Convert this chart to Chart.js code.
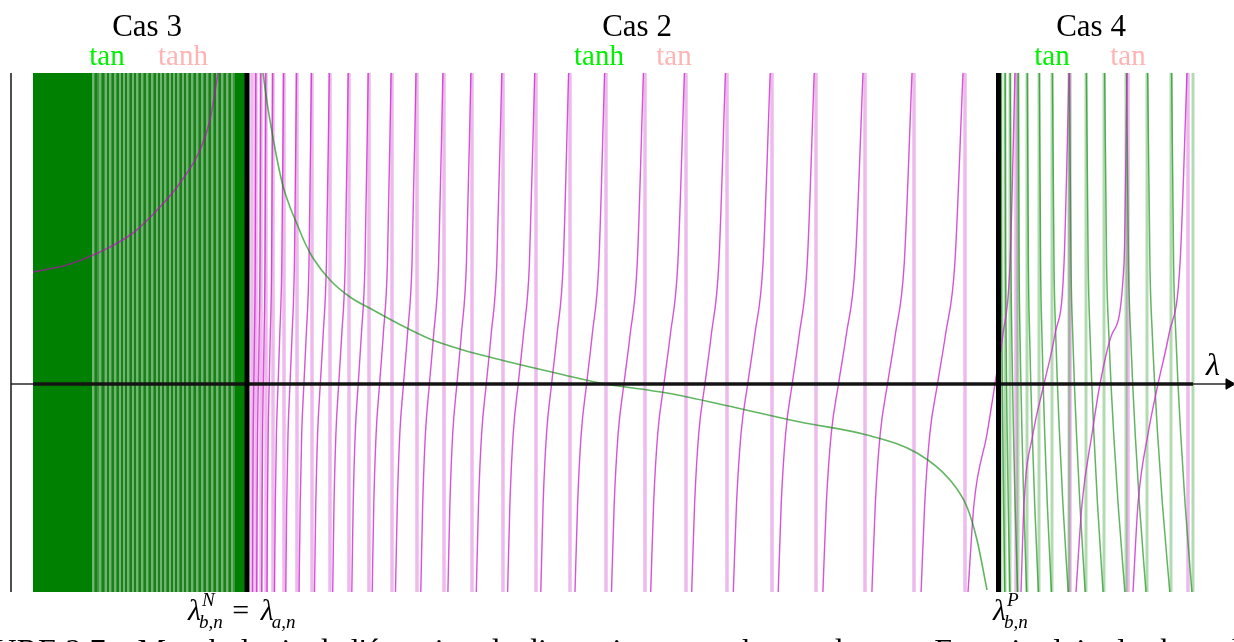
<!DOCTYPE html>
<html>
<head>
<meta charset="utf-8">
<script src="https://cdn.jsdelivr.net/npm/chart.js@4/dist/chart.umd.min.js"></script>
<style>
  html, body { margin: 0; padding: 0; background: #fff; overflow: hidden; }
  #wrap { position: relative; width: 1234px; height: 642px; }
</style>
</head>
<body>
<div id="wrap"><canvas id="dispersion"></canvas></div>
<script>
// plot window (lambda on x, dispersion function on y)
const yBottom = -2.08, yTop = 3.11;
const lambdaN = 2.47, lambdaP = 9.985;

// Cas 3 : dense tan branches (green), read as line positions
const cas3Gaps = [0.93, 1.00, 1.06, 1.10, 1.15, 1.20, 1.24, 1.28, 1.33, 1.37, 1.42, 1.47, 1.52, 1.57, 1.61,
  1.65, 1.70, 1.74, 1.78, 1.83, 1.87, 1.92, 1.97, 2.02, 2.07, 2.12, 2.17, 2.22, 2.27, 2.32];
const cas3Dark = [0.96, 1.03, 1.08, 1.13, 1.18, 1.22, 1.26, 1.31, 1.35, 1.40, 1.45, 1.50, 1.55, 1.59, 1.63,
  1.68, 1.72, 1.76, 1.81, 1.85, 1.90, 1.95, 2.00, 2.05, 2.10, 2.15, 2.20, 2.25, 2.30];
// Cas 3 : tanh curve
const cas3X = [0.33, 0.67, 1.00, 1.33, 1.60, 1.80, 2.00, 2.10, 2.18];
const cas3Y = [1.12, 1.19, 1.32, 1.51, 1.77, 2.01, 2.34, 2.64, 3.11];

// Cas 2 : tanh curve (green)
const tanhX = [2.63, 2.67, 2.72, 2.78, 2.83, 2.90, 2.97, 3.05, 3.13, 3.30, 3.50, 3.73, 3.97, 4.30, 4.63, 4.93,
  5.30, 5.60, 6.00, 6.67, 7.33, 8.00, 8.67, 9.17, 9.50, 9.67, 9.77, 9.87];
const tanhY = [3.11, 2.82, 2.52, 2.20, 1.98, 1.77, 1.60, 1.41, 1.26, 1.04, 0.87, 0.74, 0.61, 0.45, 0.34, 0.26,
  0.17, 0.10, 0.01, -0.09, -0.23, -0.38, -0.51, -0.69, -0.96, -1.23, -1.56, -2.06];

// tan branches (magenta) : x at each of these levels
const magLevels = [-2.08, -1.2, -0.5, 0, 0.5, 1.2, 3.11];
const magBranches = [
  [2.526, 2.528, 2.532, 2.538, 2.545, 2.552, 2.558],
  [2.567, 2.571, 2.576, 2.583, 2.591, 2.600, 2.608],
  [2.617, 2.621, 2.626, 2.633, 2.641, 2.650, 2.658],
  [2.670, 2.675, 2.682, 2.692, 2.703, 2.716, 2.727],
  [2.745, 2.753, 2.764, 2.781, 2.798, 2.818, 2.836],
  [2.858, 2.867, 2.880, 2.900, 2.921, 2.944, 2.965],
  [2.991, 3.002, 3.017, 3.039, 3.063, 3.090, 3.114],
  [3.145, 3.158, 3.176, 3.203, 3.232, 3.264, 3.293],
  [3.327, 3.340, 3.359, 3.387, 3.418, 3.452, 3.482],
  [3.518, 3.532, 3.552, 3.582, 3.614, 3.650, 3.682],
  [3.722, 3.738, 3.761, 3.796, 3.833, 3.874, 3.911],
  [3.955, 3.973, 3.998, 4.035, 4.075, 4.120, 4.160],
  [4.208, 4.227, 4.254, 4.294, 4.337, 4.386, 4.429],
  [4.479, 4.499, 4.527, 4.569, 4.614, 4.664, 4.709],
  [4.763, 4.785, 4.816, 4.863, 4.912, 4.968, 5.018],
  [5.076, 5.099, 5.132, 5.182, 5.235, 5.294, 5.347],
  [5.408, 5.431, 5.465, 5.516, 5.571, 5.632, 5.686],
  [5.750, 5.776, 5.812, 5.866, 5.923, 5.988, 6.046],
  [6.115, 6.142, 6.181, 6.239, 6.302, 6.372, 6.434],
  [6.507, 6.536, 6.577, 6.639, 6.704, 6.778, 6.844],
  [6.917, 6.946, 6.987, 7.049, 7.114, 7.188, 7.254],
  [7.333, 7.365, 7.410, 7.477, 7.549, 7.630, 7.702],
  [7.782, 7.812, 7.856, 7.922, 7.993, 8.072, 8.142],
  [8.229, 8.263, 8.312, 8.385, 8.464, 8.552, 8.630],
  [8.719, 8.753, 8.802, 8.875, 8.954, 9.042, 9.120],
  [9.211, 9.247, 9.298, 9.375, 9.456, 9.548, 9.630],
  [9.68, 9.74, 9.87, 9.95, 10.03, 10.10, 10.15],
  [10.21, 10.24, 10.33, 10.44, 10.55, 10.64, 10.69],
  [10.76, 10.82, 10.92, 11.00, 11.12, 11.24, 11.27],
  [11.33, 11.38, 11.48, 11.58, 11.69, 11.80, 11.87]
];
const magAsymptotes = [2.52, 2.56, 2.61, 2.66, 2.73, 2.84, 2.97, 3.12, 3.30, 3.49, 3.69, 3.92, 4.17, 4.44,
  4.72, 5.03, 5.36, 5.70, 6.06, 6.45, 6.86, 7.27, 7.72, 8.16, 8.65, 9.14, 9.65, 10.16, 10.70, 11.28, 11.88];

// Cas 4 : tan branches (green), decreasing
const greenLevels = [3.11, 1.2, 0.5, 0, -0.5, -1.2, -2.08];
const greenBranches = [
  [10.011, 10.015, 10.019, 10.023, 10.028, 10.036, 10.048],
  [10.052, 10.056, 10.061, 10.066, 10.072, 10.082, 10.098],
  [10.102, 10.110, 10.118, 10.126, 10.135, 10.151, 10.176],
  [10.183, 10.191, 10.200, 10.209, 10.220, 10.238, 10.266],
  [10.274, 10.284, 10.296, 10.308, 10.323, 10.347, 10.384],
  [10.394, 10.406, 10.419, 10.432, 10.447, 10.473, 10.514],
  [10.525, 10.540, 10.557, 10.574, 10.595, 10.629, 10.682],
  [10.695, 10.710, 10.727, 10.744, 10.765, 10.799, 10.852],
  [10.865, 10.882, 10.900, 10.918, 10.939, 10.975, 11.031],
  [11.047, 11.066, 11.088, 11.110, 11.137, 11.181, 11.249],
  [11.266, 11.285, 11.306, 11.327, 11.352, 11.394, 11.460],
  [11.477, 11.499, 11.523, 11.547, 11.576, 11.624, 11.698],
  [11.717, 11.736, 11.758, 11.780, 11.807, 11.851, 11.919]
];
const greenAsymptotes = [10.01, 10.05, 10.10, 10.18, 10.27, 10.39, 10.52, 10.69, 10.86, 11.04, 11.26, 11.47, 11.71, 11.93];

// header labels
const caseNames = ['Cas 3', 'Cas 2', 'Cas 4'];
const caseX = [1.47, 6.37, 10.91];
const leftFuncs = ['tan', 'tanh', 'tan'];
const leftFuncX = [1.07, 5.99, 10.52];
const rightFuncs = ['tanh', 'tan', 'tan'];
const rightFuncX = [1.83, 6.74, 11.28];

const MAGENTA = 'rgba(205, 40, 205, 0.8)';
const PINK = 'rgba(215, 90, 215, 0.42)';
const GREEN = 'rgba(0, 135, 0, 0.62)';
const GREEN_BAND = 'rgba(0, 135, 0, 0.3)';
const SERIF = '"Liberation Serif", "DejaVu Serif", serif';

const layers = []; // bottom layer first

function addLine(points, color, width, smooth) {
  layers.push({
    data: points,
    showLine: true,
    borderColor: color,
    borderWidth: width,
    pointRadius: 0,
    fill: false,
    cubicInterpolationMode: smooth ? 'monotone' : 'default'
  });
}
function addVline(x, color, width) {
  addLine([{ x: x, y: yBottom }, { x: x, y: yTop }], color, width, false);
}
function addBand(x0, x1, color) {
  layers.push({
    data: [{ x: x0, y: yTop }, { x: x1, y: yTop }],
    showLine: true,
    borderWidth: 0,
    borderColor: color,
    pointRadius: 0,
    fill: { value: yBottom },
    backgroundColor: color
  });
}
function pairs(xs, ys) {
  return xs.map((x, i) => ({ x: x, y: ys[i] }));
}

// Cas 3 block
addBand(0.33, 0.92, 'rgb(0, 128, 0)');
addBand(0.92, 2.35, 'rgb(60, 152, 60)');
addBand(2.35, lambdaN, 'rgb(0, 128, 0)');
cas3Dark.forEach(x => addVline(x, 'rgba(0, 110, 0, 0.75)', 1.5));
cas3Gaps.forEach(x => addVline(x, 'rgba(255, 255, 255, 0.5)', 1.1));

// asymptotes
magAsymptotes.forEach(x => addVline(x, PINK, 3.5));
greenAsymptotes.forEach(x => addVline(x, GREEN_BAND, 3));

// branches
greenBranches.forEach(b => addLine(pairs(b, greenLevels), GREEN, 1.5, true));
magBranches.forEach(b => addLine(pairs(b, magLevels), MAGENTA, 1.4, true));

// smooth curves
addLine(pairs(tanhX, tanhY), GREEN, 1.6, true);
addLine(pairs(cas3X, cas3Y), 'rgba(200, 0, 200, 0.6)', 1.6, true);

// axes
addLine([{ x: 0.11, y: 0 }, { x: 12.27, y: 0 }], 'rgb(40, 40, 40)', 1.3, false);
addLine([{ x: 0.33, y: 0 }, { x: 11.93, y: 0 }], 'rgb(20, 20, 20)', 3.5, false);
addVline(0.11, 'rgb(20, 20, 20)', 1.5);
addVline(lambdaN, '#000', 5);
addVline(lambdaP, '#000', 5);
layers.push({
  data: [{ x: 12.29, y: 0 }],
  pointStyle: 'triangle',
  rotation: 90,
  pointRadius: 6,
  backgroundColor: '#000',
  borderColor: '#000',
  borderWidth: 1,
  showLine: false
});

function drawLambda(ctx, x0, base, sup, sub) {
  ctx.textAlign = 'left';
  ctx.font = 'italic 30px ' + SERIF;
  ctx.fillText('λ', x0, base);
  const w = ctx.measureText('λ').width;
  ctx.font = 'italic 19px ' + SERIF;
  let end = x0 + w;
  if (sup) {
    ctx.fillText(sup, x0 + w + 1, base - 14);
    end = Math.max(end, x0 + w + 1 + ctx.measureText(sup).width);
  }
  ctx.fillText(sub, x0 + w - 2, base + 8);
  end = Math.max(end, x0 + w - 2 + ctx.measureText(sub).width);
  return end;
}

const textPlugin = {
  id: 'dispersionText',
  afterDraw(chart) {
    const { ctx, scales: { x, y } } = chart;
    ctx.save();
    ctx.textBaseline = 'alphabetic';
    ctx.textAlign = 'center';
    ctx.fillStyle = '#000';
    ctx.font = '31px ' + SERIF;
    caseNames.forEach((t, i) => ctx.fillText(t, x.getPixelForValue(caseX[i]), y.getPixelForValue(3.48)));
    ctx.font = '29px ' + SERIF;
    ctx.fillStyle = '#00f000';
    leftFuncs.forEach((t, i) => ctx.fillText(t, x.getPixelForValue(leftFuncX[i]), y.getPixelForValue(3.19)));
    ctx.fillStyle = '#ffb4b4';
    rightFuncs.forEach((t, i) => ctx.fillText(t, x.getPixelForValue(rightFuncX[i]), y.getPixelForValue(3.19)));

    // caption, mostly below the page
    ctx.fillStyle = '#000';
    ctx.textAlign = 'left';
    ctx.font = '32px ' + SERIF;
    ctx.fillText("FIGURE 2.7 – Morphologie de l'équation de dispersion pour chacun des cas. En trait plein, les branches de la relation de dispersion",
      x.getPixelForValue(-0.58), y.getPixelForValue(-2.77));

    // lambda labels
    ctx.fillStyle = '#000';
    ctx.font = 'italic 32px ' + SERIF;
    ctx.textAlign = 'center';
    ctx.fillText('λ', x.getPixelForValue(12.13), y.getPixelForValue(0.09));
    const base = y.getPixelForValue(-2.36);
    const e = drawLambda(ctx, x.getPixelForValue(1.88), base, 'N', 'b,n');
    ctx.font = '30px ' + SERIF;
    ctx.textAlign = 'center';
    ctx.fillText('=', e + 18, base);
    drawLambda(ctx, e + 38, base, null, 'a,n');
    drawLambda(ctx, x.getPixelForValue(9.93), base, 'P', 'b,n');
    ctx.restore();
  }
};

new Chart(document.getElementById('dispersion'), {
  type: 'scatter',
  data: { datasets: layers.slice().reverse() },
  options: {
    responsive: true,
    maintainAspectRatio: false,
    animation: false,
    events: [],
    layout: { autoPadding: false, padding: { top: 73, bottom: 50, left: 0, right: 0 } },
    scales: {
      x: { type: 'linear', min: 0, max: 12.34, display: false },
      y: { type: 'linear', min: yBottom, max: yTop, display: false }
    },
    plugins: {
      legend: { display: false },
      tooltip: { enabled: false }
    }
  },
  plugins: [textPlugin]
});
</script>
</body>
</html>
